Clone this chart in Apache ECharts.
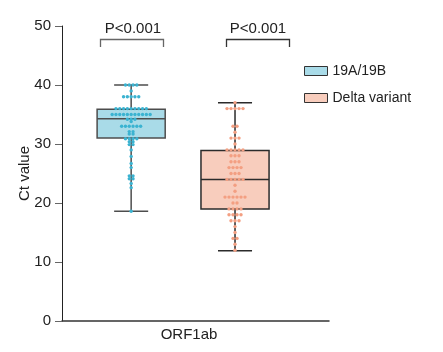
<!DOCTYPE html>
<html>
<head>
<meta charset="utf-8">
<script src="https://cdn.jsdelivr.net/npm/echarts@6/dist/echarts.min.js"></script>
<style>
html, body { margin: 0; padding: 0; background: #fff; }
#chart { width: 443px; height: 352px; }
</style>
</head>
<body>
<div id="chart"></div>
<script>
var categories = ['ORF1ab'];
var seriesNames = ['19A/19B', 'Delta variant'];

// [min, Q1, median, Q3, max]
var boxStats19A = [18.6, 31.0, 34.3, 35.9, 40.0];
var boxStatsDelta = [11.9, 19.0, 24.0, 28.9, 37.0];

// individual Ct values
var points19A = [
    40, 40, 40, 40,
    39,
    38, 38, 38, 38, 38,
    36, 36, 36, 36, 36, 36, 36, 36, 36,
    35, 35, 35, 35, 35, 35, 35, 35, 35, 35, 35,
    34.2, 34.2, 34.2,
    33.8,
    33, 33, 33, 33, 33, 33,
    32.1, 32.1,
    31.7, 31.7,
    30.9, 30.9, 30.9, 30.9,
    30.4, 30.4,
    29.9, 29.9,
    29, 27.9, 26.7, 26,
    24.6, 24.6,
    24.1, 24.1,
    23.3, 22.6, 18.6
];
var pointsDelta = [
    37,
    36, 36, 36, 36, 36,
    33, 33,
    32,
    31, 31, 31,
    30,
    29, 29, 29, 29, 29,
    28, 28, 28,
    27, 27, 27,
    26, 26, 26, 26,
    25, 25, 25,
    24, 24, 24, 24, 24,
    23, 22,
    21, 21, 21, 21, 21, 21,
    20, 20,
    19, 19, 19, 19,
    18, 18, 18, 18,
    17, 17, 17,
    16, 15,
    14, 14,
    13, 12
];

var pLabels = ['P<0.001', 'P<0.001'];

var fillColors = ['#a9dbe8', '#f8cdbd'];
var dotColors = ['#3bb3d1', '#f39f82'];
var edgeColors = ['#4d4d4d', '#2b2b2b'];
var font = 'Liberation Sans, Arial, sans-serif';

// box centre relative to category centre, as a fraction of the band width
var boxShift = [-0.241, 0.148];
var boxFrac = 0.255;
var dotSpacing = [3.8, 4];

/* simple beeswarm: equal values share a row, spread about the centre */
function swarm(values, spacing)
{
    var rows = {};
    values.forEach(function (v) {
        rows[v] = (rows[v] || 0) + 1;
    });
    var seen = {};
    return values.map(function (v) {
        var n = rows[v];
        var i = seen[v] || 0;
        seen[v] = i + 1;
        return [0, v, (i - (n - 1) / 2) * spacing];
    });
}

function boxRenderer(k)
{
    return function (params, api) {
        var band = api.size([1, 0])[0];
        var cx = api.coord([api.value(0), 0])[0] + boxShift[k] * band;
        var half = boxFrac * band / 2;
        var y = [1, 2, 3, 4, 5].map(function (d) {
            return api.coord([api.value(0), api.value(d)])[1];
        });
        var line = {stroke: edgeColors[k], lineWidth: 1.5};
        return {
            type: 'group',
            children: [
                {type: 'line', shape: {x1: cx, y1: y[0], x2: cx, y2: y[4]}, style: line},
                {type: 'line', shape: {x1: cx - half / 2, y1: y[0], x2: cx + half / 2, y2: y[0]}, style: line},
                {type: 'line', shape: {x1: cx - half / 2, y1: y[4], x2: cx + half / 2, y2: y[4]}, style: line},
                {type: 'rect', shape: {x: cx - half, y: y[3], width: 2 * half, height: y[1] - y[3]},
                 style: {fill: fillColors[k], stroke: edgeColors[k], lineWidth: 1.5}},
                {type: 'line', shape: {x1: cx - half, y1: y[2], x2: cx + half, y2: y[2]}, style: line}
            ]
        };
    };
}

function dotRenderer(k)
{
    return function (params, api) {
        var band = api.size([1, 0])[0];
        var p = api.coord([api.value(0), api.value(1)]);
        return {
            type: 'circle',
            shape: {cx: p[0] + boxShift[k] * band + api.value(2), cy: p[1], r: 1.7},
            style: {fill: dotColors[k]}
        };
    };
}

var chart = echarts.init(document.getElementById('chart'));

var allStats = [boxStats19A, boxStatsDelta];
var allPoints = [points19A, pointsDelta];
var series = [];
seriesNames.forEach(function (name, k) {
    series.push({
        name: name,
        type: 'custom',
        renderItem: boxRenderer(k),
        encode: {x: 0, y: [1, 2, 3, 4, 5]},
        itemStyle: {color: fillColors[k]},
        data: [[0].concat(allStats[k])],
        z: 2
    });
});
seriesNames.forEach(function (name, k) {
    series.push({
        name: name,
        type: 'custom',
        renderItem: dotRenderer(k),
        encode: {x: 0, y: 1},
        itemStyle: {color: dotColors[k]},
        data: swarm(allPoints[k], dotSpacing[k]),
        z: 3
    });
});

chart.setOption({
    animation: false,
    textStyle: {fontFamily: font},
    grid: {left: 62, right: 114, top: 26, bottom: 31},
    legend: {
        orient: 'vertical',
        left: 304,
        top: 64,
        itemWidth: 23,
        itemHeight: 9,
        itemGap: 13,
        padding: 0,
        textStyle: {fontSize: 14, color: '#222', fontFamily: font},
        data: seriesNames.map(function (n, k) {
            return {name: n, icon: 'rect',
                    itemStyle: {color: fillColors[k], borderColor: '#333', borderWidth: 1}};
        })
    },
    xAxis: {
        type: 'category',
        data: categories,
        boundaryGap: true,
        axisTick: {show: false},
        axisLine: {lineStyle: {color: '#333', width: 1.5}},
        axisLabel: {fontSize: 15, color: '#222', margin: 6, padding: [0, 13, 0, 0]}
    },
    yAxis: {
        type: 'value',
        min: 0,
        max: 50,
        interval: 10,
        name: 'Ct value',
        nameLocation: 'middle',
        nameGap: 30,
        nameMoveOverlap: false,
        nameTextStyle: {fontSize: 15, color: '#222'},
        splitLine: {show: false},
        axisLine: {show: true, lineStyle: {color: '#222', width: 1}},
        axisTick: {show: true, length: 7, lineStyle: {color: '#666'}},
        axisLabel: {fontSize: 15, color: '#222', margin: 11}
    },
    graphic: [
        {type: 'text', x: 133, y: 29, style: {text: pLabels[0], font: '15px ' + font, fill: '#222',
            textAlign: 'center', textVerticalAlign: 'middle'}},
        {type: 'polyline', shape: {points: [[100.5, 47], [100.5, 39.5], [163.5, 39.5], [163.5, 47]]},
            style: {stroke: '#666', lineWidth: 1.3, fill: null}},
        {type: 'text', x: 258, y: 29, style: {text: pLabels[1], font: '15px ' + font, fill: '#222',
            textAlign: 'center', textVerticalAlign: 'middle'}},
        {type: 'polyline', shape: {points: [[226.5, 47], [226.5, 39.5], [289.5, 39.5], [289.5, 47]]},
            style: {stroke: '#333', lineWidth: 1.3, fill: null}}
    ],
    series: series
});
</script>
</body>
</html>
